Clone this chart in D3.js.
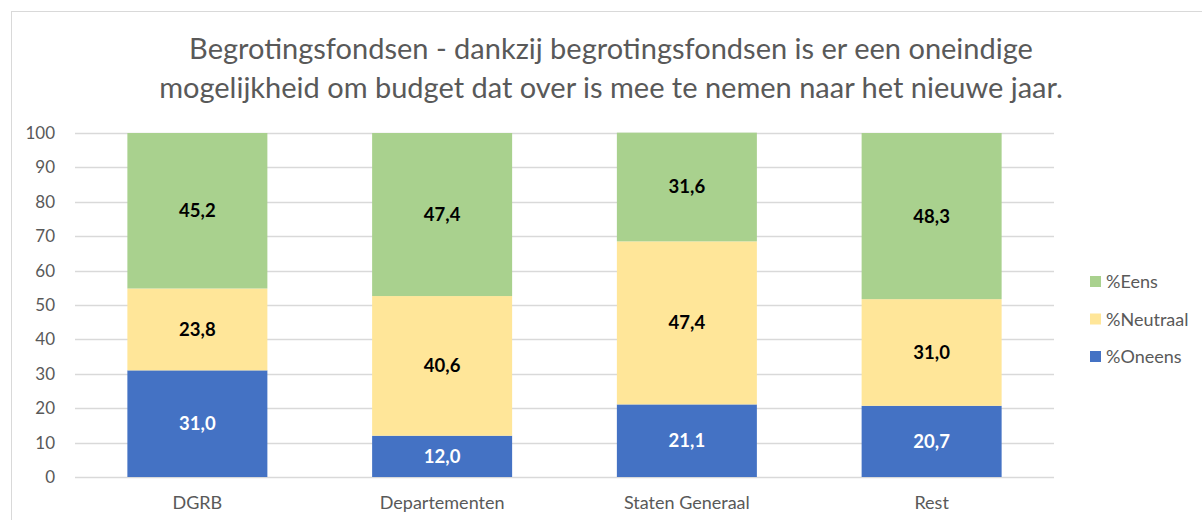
<!DOCTYPE html>
<html>
<head>
<meta charset="utf-8">
<script src="https://cdn.jsdelivr.net/npm/d3@7"></script>
<style>
  body { margin: 0; background: #fff; }
  text { font-family: Lato, "Open Sans", sans-serif; }
</style>
</head>
<body>
<script>
var w = 1202;
var h = 520;

var categories = ['DGRB', 'Departementen', 'Staten Generaal', 'Rest'];
var seriesNames = ['%Oneens', '%Neutraal', '%Eens'];
var oneens = [31.0, 12.0, 21.1, 20.7];
var neutraal = [23.8, 40.6, 47.4, 31.0];
var eens = [45.2, 47.4, 31.6, 48.3];
var yTicks = [0, 10, 20, 30, 40, 50, 60, 70, 80, 90, 100];
var titleLines = [
  'Begrotingsfondsen - dankzij begrotingsfondsen is er een oneindige',
  'mogelijkheid om budget dat over is mee te nemen naar het nieuwe jaar.'
];

var colors = { '%Oneens': '#4472C4', '%Neutraal': '#FFE699', '%Eens': '#A9D18E' };
var labelColors = { '%Oneens': '#ffffff', '%Neutraal': '#000000', '%Eens': '#000000' };

// rows for the stack
var rows = categories.map(function(c, i) {
  return { cat: c, '%Oneens': oneens[i], '%Neutraal': neutraal[i], '%Eens': eens[i] };
});
var stacked = d3.stack().keys(seriesNames)(rows);

var svg = d3.select('body')
  .append('svg')
  .attr('width', w)
  .attr('height', h);

// chart border
svg.append('rect')
  .attr('x', 11.5).attr('y', 11.5)
  .attr('width', w).attr('height', h)
  .attr('fill', 'none')
  .attr('stroke', '#d9d9d9');

var x = d3.scaleBand()
  .domain(categories)
  .range([75, 1054])
  .paddingInner(0.428)
  .paddingOuter(0.214);

var y = d3.scaleLinear()
  .domain([0, 100])
  .range([477, 133]);

// title
svg.append('g').selectAll('text')
  .data(titleLines)
  .enter()
  .append('text')
  .attr('x', 611)
  .attr('y', function(d, i) { return 59 + i * 39; })
  .attr('text-anchor', 'middle')
  .attr('font-size', '29px')
  .attr('fill', '#595959')
  .text(function(d) { return d; });

// gridlines
svg.append('g').selectAll('line')
  .data(yTicks)
  .enter()
  .append('line')
  .attr('x1', 75).attr('x2', 1054)
  .attr('y1', function(d) { return Math.round(y(d)) + 0.5; })
  .attr('y2', function(d) { return Math.round(y(d)) + 0.5; })
  .attr('stroke', '#d9d9d9')
  .attr('stroke-width', 1.5);

// y axis
var yAxis = svg.append('g')
  .attr('transform', 'translate(62,0)')
  .call(d3.axisLeft(y).tickValues(yTicks).tickSize(0).tickPadding(7));
yAxis.select('.domain').remove();
yAxis.selectAll('text')
  .attr('font-size', '17px')
  .attr('fill', '#595959')
  .style('font-family', 'Lato, "Open Sans", sans-serif');

// x axis
var xAxis = svg.append('g')
  .attr('transform', 'translate(0,' + y(0) + ')')
  .call(d3.axisBottom(x).tickSize(0).tickPadding(19));
xAxis.select('.domain').remove();
xAxis.selectAll('text')
  .attr('font-size', '18px')
  .attr('fill', '#595959')
  .style('font-family', 'Lato, "Open Sans", sans-serif');

// bars
var layers = svg.append('g').selectAll('g')
  .data(stacked)
  .enter()
  .append('g')
  .attr('fill', function(d) { return colors[d.key]; });

layers.selectAll('rect')
  .data(function(d) { return d; })
  .enter()
  .append('rect')
  .attr('x', function(d) { return x(d.data.cat); })
  .attr('y', function(d) { return y(d[1]); })
  .attr('width', x.bandwidth())
  .attr('height', function(d) { return y(d[0]) - y(d[1]); });

// data labels
stacked.forEach(function(layer) {
  svg.append('g').selectAll('text')
    .data(layer)
    .enter()
    .append('text')
    .attr('x', function(d) { return x(d.data.cat) + x.bandwidth() / 2; })
    .attr('y', function(d) { return (y(d[0]) + y(d[1])) / 2; })
    .attr('dy', '0.35em')
    .attr('text-anchor', 'middle')
    .attr('font-size', '18.5px')
    .attr('font-weight', 'bold')
    .attr('fill', labelColors[layer.key])
    .text(function(d) { return d3.format('.1f')(d[1] - d[0]).replace('.', ','); });
});

// legend
var legendKeys = seriesNames.slice().reverse();
var legend = svg.append('g').selectAll('g')
  .data(legendKeys)
  .enter()
  .append('g')
  .attr('transform', function(d, i) { return 'translate(1090,' + (282 + i * 37.5) + ')'; });
legend.append('rect')
  .attr('x', 0).attr('y', -6)
  .attr('width', 11).attr('height', 11)
  .attr('fill', function(d) { return colors[d]; });
legend.append('text')
  .attr('x', 16)
  .attr('dy', '0.35em')
  .attr('font-size', '18px')
  .attr('fill', '#595959')
  .text(function(d) { return d; });
</script>
</body>
</html>
